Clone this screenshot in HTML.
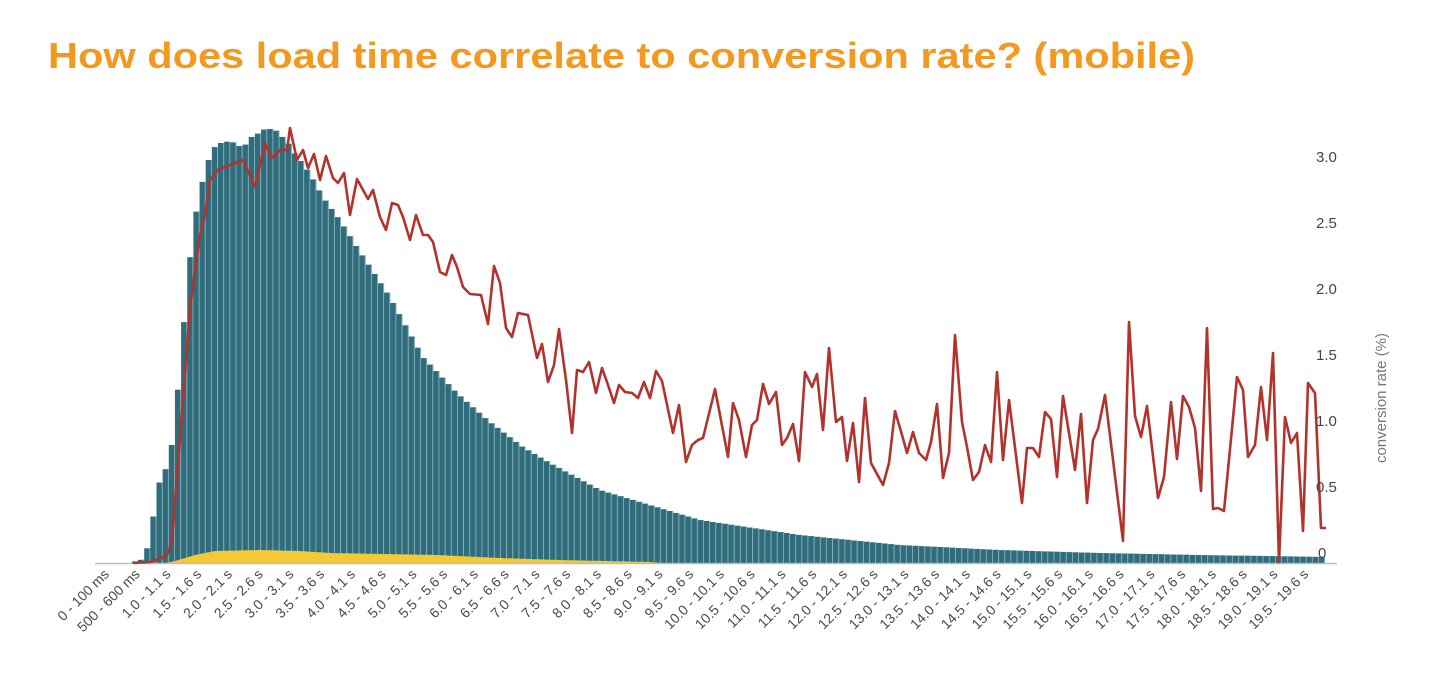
<!DOCTYPE html>
<html><head><meta charset="utf-8"><style>
html,body{margin:0;padding:0;background:#fff;width:1437px;height:682px;overflow:hidden}
svg{display:block}
.t{font-family:"Liberation Sans",sans-serif;font-size:14px;fill:#4a4a4a}
.r{font-family:"Liberation Sans",sans-serif;font-size:15px;fill:#444}
</style></head><body>
<svg id="s" width="1437" height="682" xmlns="http://www.w3.org/2000/svg">
<text x="48" y="68" font-family="Liberation Sans, sans-serif" font-weight="bold" font-size="36" fill="#f4991f" textLength="1147" lengthAdjust="spacingAndGlyphs">How does load time correlate to conversion rate? (mobile)</text>
<g id="bars"></g>
<path id="yel" fill="#f5c835"/>
<line x1="95" y1="563.5" x2="1337" y2="563.5" stroke="#bbb" stroke-width="1.5"/>
<polyline id="red" fill="none" stroke="#b3322c" stroke-width="2.6" stroke-linejoin="round"/>
<g class="r">
<text x="1316" y="162">3.0</text>
<text x="1316" y="228">2.5</text>
<text x="1316" y="294">2.0</text>
<text x="1316" y="360">1.5</text>
<text x="1316" y="426">1.0</text>
<text x="1316" y="492">0.5</text>
<text x="1318" y="558">0</text>
</g>
<text transform="translate(1386,398) rotate(-90)" text-anchor="middle" font-family="Liberation Sans, sans-serif" font-size="15" fill="#777">conversion rate (%)</text>
<g class="t" text-anchor="end">
<text transform="translate(110,575) rotate(-45)">0 - 100 ms</text>
<text transform="translate(140.75,575) rotate(-45)">500 - 600 ms</text>
<text transform="translate(171.5,575) rotate(-45)">1.0 - 1.1 s</text>
<text transform="translate(202.25,575) rotate(-45)">1.5 - 1.6 s</text>
<text transform="translate(233,575) rotate(-45)">2.0 - 2.1 s</text>
<text transform="translate(263.75,575) rotate(-45)">2.5 - 2.6 s</text>
<text transform="translate(294.5,575) rotate(-45)">3.0 - 3.1 s</text>
<text transform="translate(325.25,575) rotate(-45)">3.5 - 3.6 s</text>
<text transform="translate(356,575) rotate(-45)">4.0 - 4.1 s</text>
<text transform="translate(386.75,575) rotate(-45)">4.5 - 4.6 s</text>
<text transform="translate(417.5,575) rotate(-45)">5.0 - 5.1 s</text>
<text transform="translate(448.25,575) rotate(-45)">5.5 - 5.6 s</text>
<text transform="translate(479,575) rotate(-45)">6.0 - 6.1 s</text>
<text transform="translate(509.75,575) rotate(-45)">6.5 - 6.6 s</text>
<text transform="translate(540.5,575) rotate(-45)">7.0 - 7.1 s</text>
<text transform="translate(571.25,575) rotate(-45)">7.5 - 7.6 s</text>
<text transform="translate(602,575) rotate(-45)">8.0 - 8.1 s</text>
<text transform="translate(632.75,575) rotate(-45)">8.5 - 8.6 s</text>
<text transform="translate(663.5,575) rotate(-45)">9.0 - 9.1 s</text>
<text transform="translate(694.25,575) rotate(-45)">9.5 - 9.6 s</text>
<text transform="translate(725,575) rotate(-45)">10.0 - 10.1 s</text>
<text transform="translate(755.75,575) rotate(-45)">10.5 - 10.6 s</text>
<text transform="translate(786.5,575) rotate(-45)">11.0 - 11.1 s</text>
<text transform="translate(817.25,575) rotate(-45)">11.5 - 11.6 s</text>
<text transform="translate(848,575) rotate(-45)">12.0 - 12.1 s</text>
<text transform="translate(878.75,575) rotate(-45)">12.5 - 12.6 s</text>
<text transform="translate(909.5,575) rotate(-45)">13.0 - 13.1 s</text>
<text transform="translate(940.25,575) rotate(-45)">13.5 - 13.6 s</text>
<text transform="translate(971,575) rotate(-45)">14.0 - 14.1 s</text>
<text transform="translate(1001.75,575) rotate(-45)">14.5 - 14.6 s</text>
<text transform="translate(1032.5,575) rotate(-45)">15.0 - 15.1 s</text>
<text transform="translate(1063.25,575) rotate(-45)">15.5 - 15.6 s</text>
<text transform="translate(1094,575) rotate(-45)">16.0 - 16.1 s</text>
<text transform="translate(1124.75,575) rotate(-45)">16.5 - 16.6 s</text>
<text transform="translate(1155.5,575) rotate(-45)">17.0 - 17.1 s</text>
<text transform="translate(1186.25,575) rotate(-45)">17.5 - 17.6 s</text>
<text transform="translate(1217,575) rotate(-45)">18.0 - 18.1 s</text>
<text transform="translate(1247.75,575) rotate(-45)">18.5 - 18.6 s</text>
<text transform="translate(1278.5,575) rotate(-45)">19.0 - 19.1 s</text>
<text transform="translate(1309.25,575) rotate(-45)">19.5 - 19.6 s</text>
</g>
</svg>
<script>
(function(){
var NS="http://www.w3.org/2000/svg",B=563;
var hp=[[128,0],[133,1],[140,3],[145,4],[152,37],[158,77],[163,88],[170,103],[176,151],[182,217],[188,283],[193,332],[200,371],[207,398],[212,412],[218,420],[225,420],[230,423],[237,418],[242,416],[248,420],[253,428],[260,430],[267,436],[272,433],[278,432],[285,423],[290,418],[297,406],[303,400],[308,392],[315,381],[323,366],[340,343],[357,316],[390,266],[423,206],[457,170],[490,141],[523,116],[550,100],[600,73],[700,43],[800,28],[900,18],[1000,13],[1100,10],[1200,8],[1330,6]];
function interp(p,x){if(x<=p[0][0])return p[0][1];for(var i=1;i<p.length;i++){if(x<=p[i][0]){var a=p[i-1],b=p[i];return a[1]+(b[1]-a[1])*(x-a[0])/(b[0]-a[0]);}}return p[p.length-1][1];}
var g=document.getElementById("bars"),w=6.15;
for(var i=0;i<200;i++){var x0=95+i*w,c=x0+w/2,h=interp(hp,c);if(h<0.5)continue;
var r=document.createElementNS(NS,"rect");r.setAttribute("x",x0.toFixed(2));r.setAttribute("y",(B-h).toFixed(1));r.setAttribute("width",w.toFixed(2));r.setAttribute("height",h.toFixed(1));r.setAttribute("fill","#2f6c7c");g.appendChild(r);
var l=document.createElementNS(NS,"rect");l.setAttribute("x",(x0+w-0.9).toFixed(2));l.setAttribute("y",(B-h).toFixed(1));l.setAttribute("width","0.9");l.setAttribute("height",h.toFixed(1));l.setAttribute("fill","#8fb3bd");g.appendChild(l);}
var yp=[[165,0],[175,2],[195,8],[215,12],[260,13],[300,12],[330,10],[437,8],[500,5],[560,3],[650,1],[662,0]];
var d="M165,"+B;for(var x=165;x<=662;x+=2){d+=" L"+x+","+(B-interp(yp,x)).toFixed(1);}d+=" L662,"+B+" Z";
document.getElementById("yel").setAttribute("d",d);
var rp=[[133,563],[150,562],[162,558],[168,553],[172,540],[190,310],[195,270],[200,235],[205,215],[210,180],[218,170],[230,165],[243,160],[255,187],[265,143],[272,158],[280,150],[287,150],[290,128],[297,160],[303,150],[308,168],[314,154],[320,180],[326,156],[333,178],[338,183],[344,173],[350,215],[357,179],[368,199],[373,190],[380,217],[386,230],[392,203],[398,205],[403,217],[410,240],[416,215],[423,235],[428,235],[433,242],[440,272],[446,275],[452,255],[457,267],[463,287],[470,294],[481,295],[488,324],[494,266],[500,283],[506,328],[512,337],[518,313],[528,315],[537,358],[542,344],[548,382],[554,365],[559,329],[566,380],[572,433],[577,370],[583,372],[589,362],[596,393],[602,368],[607,382],[614,403],[619,385],[625,392],[632,393],[638,398],[644,382],[650,398],[656,371],[662,381],[673,433],[679,405],[686,462],[692,445],[698,440],[703,438],[715,389],[728,457],[733,403],[739,420],[746,457],[752,425],[757,420],[763,384],[769,404],[776,392],[782,445],[787,438],[793,424],[799,461],[805,372],[812,387],[817,374],[823,430],[829,348],[836,422],[842,417],[847,461],[853,423],[859,482],[865,398],[871,463],[877,474],[883,485],[889,463],[895,411],[902,435],[907,453],[913,432],[919,453],[926,460],[931,442],[937,404],[943,478],[949,453],[955,335],[962,422],[967,447],[973,480],[979,472],[985,445],[991,462],[997,372],[1003,460],[1009,400],[1022,503],[1027,448],[1033,448],[1039,457],[1045,412],[1051,419],[1057,477],[1063,396],[1075,470],[1081,414],[1087,503],[1093,440],[1098,429],[1105,395],[1123,541],[1129,322],[1135,416],[1141,437],[1147,406],[1158,498],[1164,477],[1171,402],[1177,459],[1183,396],[1189,407],[1195,428],[1201,491],[1207,328],[1213,509],[1218,508],[1224,511],[1237,377],[1243,390],[1248,457],[1255,445],[1261,387],[1267,440],[1273,353],[1279,562],[1285,417],[1291,443],[1297,433],[1303,531],[1308,383],[1315,393],[1321,528],[1326,528]];
document.getElementById("red").setAttribute("points",rp.map(function(p){return p[0]+","+p[1];}).join(" "));
})();
</script>
</body></html>
